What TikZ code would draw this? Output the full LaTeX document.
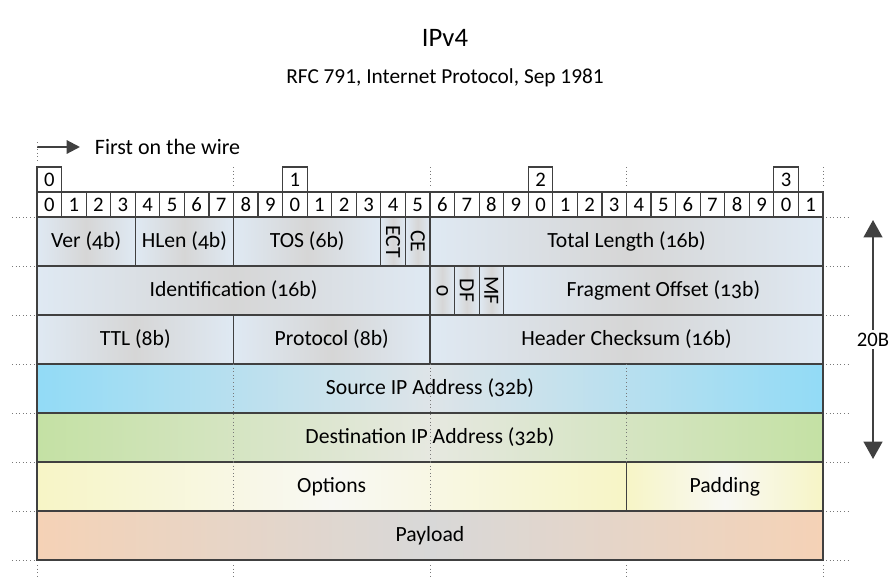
\documentclass[tikz,border=0pt]{standalone}
\usepackage{fontspec}
\setmainfont{Carlito}
\newfontfamily\fieldfont{Carlito}[Numbers=OldStyle]
\usetikzlibrary{arrows.meta}
\definecolor{edgegrey}{RGB}{64,64,64}
\definecolor{dotgrey}{RGB}{120,120,120}
\definecolor{hdrblue}{RGB}{223,233,243}
\definecolor{hdrgrey}{RGB}{214,214,214}
\definecolor{srcblue}{RGB}{146,219,246}
\definecolor{srcmid}{RGB}{222,228,232}
\definecolor{dstgreen}{RGB}{196,225,164}
\definecolor{dstmid}{RGB}{230,232,224}
\definecolor{optyellow}{RGB}{247,245,198}
\definecolor{optmid}{RGB}{248,248,243}
\definecolor{payorange}{RGB}{245,210,182}
\definecolor{paymid}{RGB}{216,216,216}

\begin{document}
\begin{tikzpicture}[x=0.75pt,y=-0.75pt,
  field/.style={draw=edgegrey,line width=0.9pt,inner sep=0pt,outer sep=0pt,
    anchor=north west,minimum height=36.75pt,
    font=\fieldfont\fontsize{16.25}{18}\selectfont},
  fieldfill/.style 2 args={left color=#1,right color=#1,middle color=#2},
  bitbox/.style={draw=edgegrey,line width=0.9pt,fill=white,inner sep=0pt,
    outer sep=0pt,minimum width=18.42pt,minimum height=18.75pt,
    font=\fontsize{15.5}{17}\selectfont},
  guide/.style={dotted,dotgrey,line width=0.7pt}]
  \useasboundingbox (0,0) rectangle (891,576);

  \node (title) at (445,38) {\fontsize{20}{24}\selectfont IPv4};
  \node (subtitle) at (445,78) {\fontsize{16}{19}\selectfont RFC 791, Internet Protocol, Sep 1981};

  \coordinate (wirestart) at (37,147);
  \node[anchor=west,inner xsep=11pt,font=\fontsize{16.5}{19}\selectfont] (wire) at (80,147) {First on the wire};
  \draw[-{Triangle[length=10pt,width=10pt]},edgegrey,line width=1.6pt] (wirestart) -- (wire.west);

  \draw[guide] (37,142) -- (37,163);
  \foreach \x in {233.5,430,626.5,823}
    \draw[guide] (\x,167) -- (\x,188);
  \foreach \k in {0,...,7} {
    \draw[guide] (12,{217+\k*49}) -- (34,{217+\k*49});
    \draw[guide] (826,{217+\k*49}) -- (848,{217+\k*49});}
  \foreach \x in {37,233.5,430,626.5,823}
    \draw[guide] (\x,565) -- (\x,576);

  \foreach \i in {0,...,3}
    \node[bitbox,anchor=south west] (dec\i) at ({37+\i*245.625},192) {\i};
  \foreach \i in {0,...,31} {
    \pgfmathtruncatemacro\d{mod(\i,10)}
    \node[bitbox,anchor=north west] (bit\i) at ({37+\i*24.5625},192) {\d};}

  \foreach \a/\b/\r/\n/\t/\c/\m in {
      0/4/0/ver/Ver (4b)/hdrblue/hdrgrey,
      4/8/0/hlen/HLen (4b)/hdrblue/hdrgrey,
      8/14/0/tos/TOS (6b)/hdrblue/hdrgrey,
      14/15/0/ect/\rotatebox{-90}{ECT}/hdrblue/hdrgrey,
      15/16/0/ce/\rotatebox{-90}{CE}/hdrblue/hdrgrey,
      16/32/0/totlen/Total Length (16b)/hdrblue/hdrgrey,
      0/16/1/ident/Identification (16b)/hdrblue/hdrgrey,
      16/17/1/zero/\rotatebox{-90}{0}/hdrblue/hdrgrey,
      17/18/1/df/\rotatebox{-90}{DF}/hdrblue/hdrgrey,
      18/19/1/mf/\rotatebox{-90}{MF}/hdrblue/hdrgrey,
      19/32/1/fragoff/Fragment Offset (13b)/hdrblue/hdrgrey,
      0/8/2/ttl/TTL (8b)/hdrblue/hdrgrey,
      8/16/2/proto/Protocol (8b)/hdrblue/hdrgrey,
      16/32/2/cksum/Header Checksum (16b)/hdrblue/hdrgrey,
      0/32/3/srcip/Source IP Address (32b)/srcblue/srcmid,
      0/32/4/dstip/Destination IP Address (32b)/dstgreen/dstmid,
      0/24/5/options/Options/optyellow/optmid,
      24/32/5/padding/Padding/optyellow/optmid,
      0/32/6/payload/Payload/payorange/paymid}
    \node[field,fieldfill={\c}{\m},minimum width={(\b-\a)*18.42pt}]
      (\n) at ({37+\a*24.5625},{217+\r*49}) {\t};

  \foreach \x in {233.5,430,626.5}
    \draw[guide] (\x,{217+3*49}) -- (\x,{217+5*49});
  \foreach \x in {233.5,430}
    \draw[guide] (\x,{217+5*49}) -- (\x,{217+6*49});

  \coordinate (sizetop) at (873,220);
  \coordinate (sizebot) at (873,459);
  \draw[{Triangle[length=13pt,width=14pt]}-{Triangle[length=13pt,width=14pt]},edgegrey,line width=1.6pt]
    (sizetop) -- (sizebot) node[midway,fill=white,text=black,inner sep=2pt,font=\fontsize{15.5}{17}\selectfont] (size) {20B};
\end{tikzpicture}
\end{document}
